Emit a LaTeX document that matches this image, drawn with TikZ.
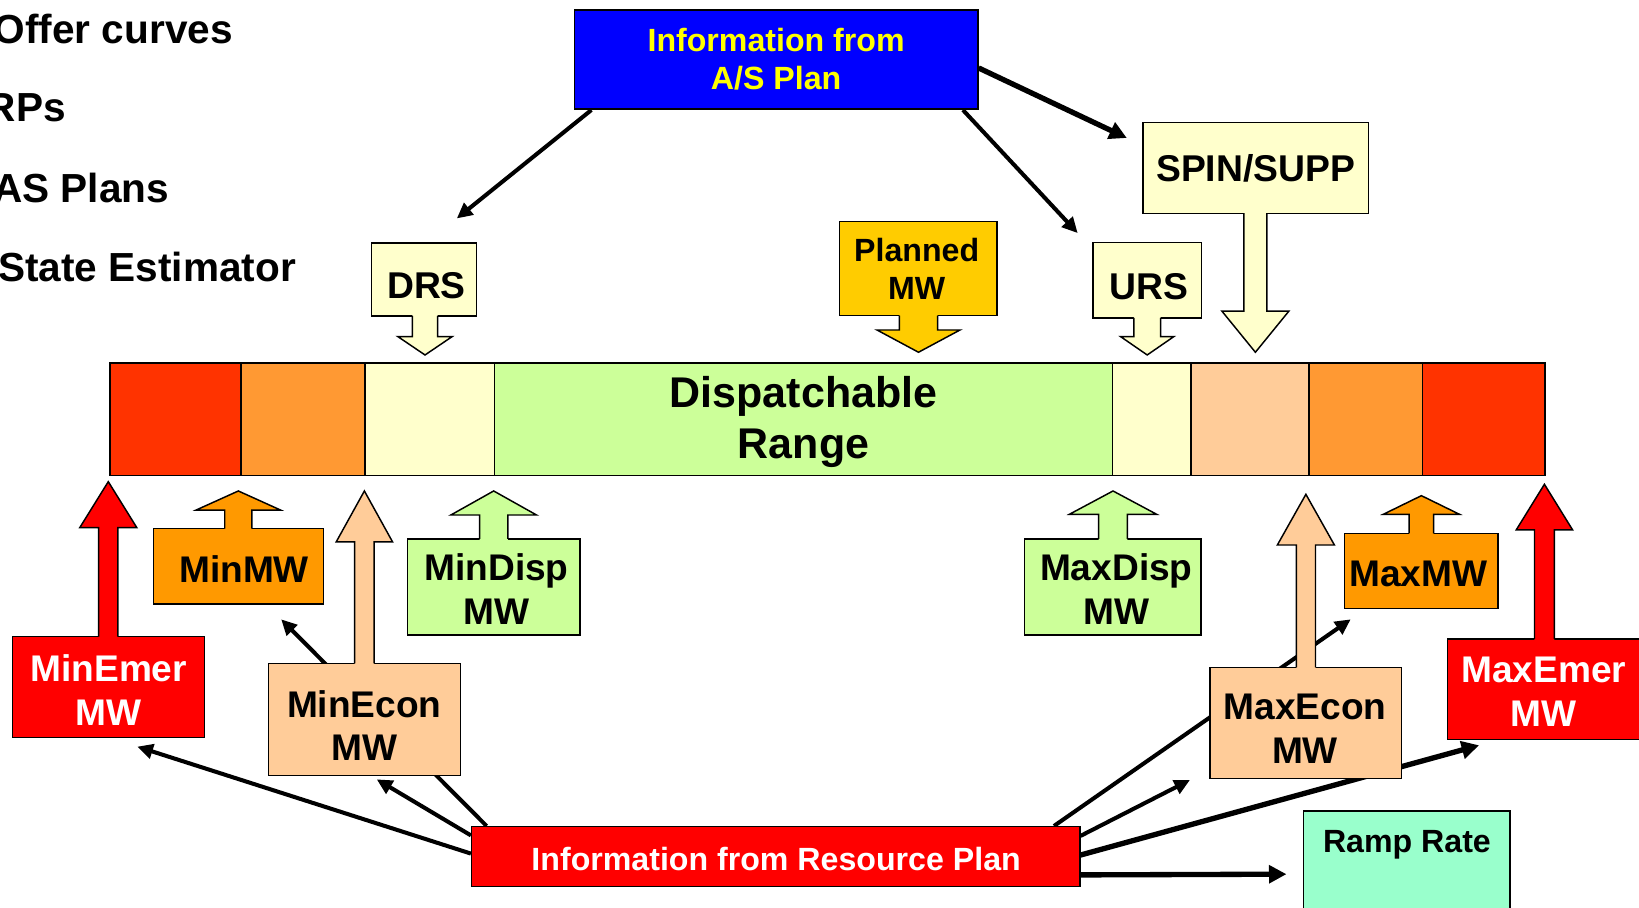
\documentclass[tikz,border=0pt]{standalone}
\usepackage{fontspec}
\setmainfont{Liberation Sans}
\usetikzlibrary{positioning,calc,arrows.meta,backgrounds}

\definecolor{emerred}{RGB}{255,0,0}
\definecolor{barred}{RGB}{255,51,0}
\definecolor{barorange}{RGB}{255,153,51}
\definecolor{mworange}{RGB}{255,153,0}
\definecolor{econpeach}{RGB}{255,204,153}
\definecolor{dispgreen}{RGB}{204,255,153}
\definecolor{regyellow}{RGB}{255,255,204}
\definecolor{plangold}{RGB}{255,204,0}
\definecolor{asblue}{RGB}{0,0,255}
\definecolor{asyellow}{RGB}{255,255,0}
\definecolor{rampmint}{RGB}{153,255,204}

\newcommand{\listfont}{\fontsize{22.1}{26}\selectfont\bfseries}
\newcommand{\boxfont}{\fontsize{20.2}{23.8}\selectfont\bfseries}
\newcommand{\tagfont}{\fontsize{20.3}{24}\selectfont\bfseries}
\newcommand{\infofont}{\fontsize{17.5}{20.6}\selectfont\bfseries}
\newcommand{\rangefont}{\fontsize{23.4}{27.7}\selectfont\bfseries}

% block arrow: colour, x, edge y, head y, tip y, shaft half width, head half width
\newcommand{\blockarrow}[7]{%
\fill[#1] (#2-#6,{#3+1.5*sign(#3-#5)}) -- (#2-#6,#4) -- (#2-#7,#4) -- (#2,#5) -- (#2+#7,#4) -- (#2+#6,#4) -- (#2+#6,{#3+1.5*sign(#3-#5)}) -- cycle;
\draw[arrowline] (#2-#6,#3) -- (#2-#6,#4) -- (#2-#7,#4) -- (#2,#5) -- (#2+#7,#4) -- (#2+#6,#4) -- (#2+#6,#3);}

\tikzset{
  box/.style={draw, line width=0.8pt, inner sep=0pt},
  sized/.style 2 args={minimum width=#1*0.02cm, minimum height=#2*0.02cm},
  boxtext/.style={align=center, inner sep=0pt, font=\boxfont},
  barseg/.style={draw, line width=0.9pt, inner sep=0pt, minimum height=108*0.02cm},
  listtext/.style={anchor=base west, inner sep=0pt, font=\listfont},
  arrowline/.style={line width=0.8pt, line join=miter},
  link/.style={line width=2.2pt, -{Triangle[length=8.5pt,width=8pt]}},
  heavylink/.style={line width=2.9pt, -{Triangle[length=9.5pt,width=9.5pt]}}
}

\begin{document}
\begin{tikzpicture}[x=0.02cm,y=-0.02cm]
\useasboundingbox (0,0) rectangle (1568,868);
\clip (0,0) rectangle (1568,868);
%% list on the left
\node[listtext] (offer) at (-6.4,41.5) {Offer curves};
\node[listtext] (rps) at (-13,116.4) {RPs};
\node[listtext] (asplans) at (-7,193.6) {AS Plans};
\node[listtext] (stateest) at (-2,269.5) {State Estimator};

%the upper nodes
\node[box, fill=asblue, sized={386}{95}] (blue) at (742.5,57) {};
\node[box, fill=regyellow, sized={215.5}{86.6}] (spin) at (1201.3,160.7) {};
\node[box, fill=regyellow, sized={100.4}{70.1}] (drs) at (405.8,267.3) {};
\node[box, fill=plangold, sized={151}{90}] (planned) at (878.5,257) {};
\node[box, fill=regyellow, sized={104}{72.2}] (urs) at (1097.5,268) {};
\blockarrow{regyellow}{406.6}{302.3}{322}{339.6}{12.1}{26}
\blockarrow{plangold}{878.7}{302}{315.7}{337}{18.3}{39.7}
\blockarrow{regyellow}{1097.5}{304}{322}{339.6}{12.75}{25.5}
\blockarrow{regyellow}{1201}{204}{297.7}{337}{11}{32}
%their texts
\node[boxtext, font=\infofont, text=asyellow] (bluetext) at (742.5,57) {Information from\\A/S Plan};
\node[boxtext, font=\tagfont] (spintext) at (1201.3,161.5) {SPIN/SUPP};
\node[boxtext, font=\tagfont] (drstext) at (408,273) {DRS};
\node[boxtext, font=\infofont] (plannedtext) at (877,257) {Planned\\MW};
\node[boxtext, font=\tagfont] (urstext) at (1099.5,274) {URS};

%the bar
\foreach \nm/\xa/\xb/\col in {sega/105.4/230.3/barred, segb/230.3/349/barorange, segc/349/473/regyellow, segd/473/1064.4/dispgreen, sege/1064.4/1139.6/regyellow, segf/1139.6/1252.3/econpeach, segg/1252.3/1360.7/barorange, segh/1360.7/1478.3/barred}
  \node[barseg, fill=\col, minimum width=(\xb-\xa)*0.02cm] (\nm) at ({(\xa+\xb)/2},401) {};
\node[font=\rangefont, align=center] (disprange) at (768.7,403.5) {Dispatchable\\Range};

%the lower nodes
\node[box, fill=emerred, sized={183.7}{96.4}] (minemer) at (103.65,657.2) {};
\node[box, fill=mworange, sized={162.4}{72.3}] (minmw) at (228.2,541.9) {};
\node[box, fill=econpeach, sized={184}{107.4}] (minecon) at (348.7,688.3) {};
\node[box, fill=dispgreen, sized={164.7}{91.9}] (mindisp) at (472.4,561.5) {};
\node[box, fill=dispgreen, sized={168.6}{91.9}] (maxdisp) at (1064.6,561.5) {};
\node[box, fill=econpeach, sized={183.4}{106.6}] (maxecon) at (1249.3,691.7) {};
\node[box, fill=mworange, sized={146.7}{71.8}] (maxmw) at (1359.7,546.1) {};
\node[box, fill=emerred, sized={185}{96}] (maxemer) at (1477.5,659.3) {};
\blockarrow{emerred}{103.6}{609}{504.8}{460.8}{9.2}{27.3}
\blockarrow{mworange}{228}{505.7}{488}{469.7}{13}{40.5}
\blockarrow{econpeach}{348.6}{634.6}{518.5}{469.7}{9.3}{27}
\blockarrow{dispgreen}{472.3}{515.6}{492.7}{469.7}{13.5}{41}
\blockarrow{dispgreen}{1064.8}{515.6}{492}{469.7}{13.8}{41.7}
\blockarrow{econpeach}{1249.3}{638.4}{521.4}{472.9}{9.2}{27.3}
\blockarrow{mworange}{1359.8}{510.2}{492}{474.2}{11.8}{36.4}
\blockarrow{emerred}{1477.5}{611.3}{507}{463.3}{9.5}{27}
%their texts
\node[boxtext, text=white] (minemertext) at (104,660) {MinEmer\\MW};
\node[boxtext] (minmwtext) at (233.5,544.5) {MinMW};
\node[boxtext] (mincontext) at (348.5,694) {MinEcon\\MW};
\node[boxtext] (mindisptext) at (475,563.5) {MinDisp\\MW};
\node[boxtext] (maxdisptext) at (1068,563.5) {MaxDisp\\MW};
\node[boxtext] (maxecontext) at (1248.5,697) {MaxEcon\\MW};
\node[boxtext] (maxmwtext) at (1357,549) {MaxMW};
\node[boxtext, text=white] (maxemertext) at (1477,661.5) {MaxEmer\\MW};

\node[box, fill=emerred, sized={581.8}{57.4}] (rp) at (742.1,819.6) {};
\node[boxtext, font=\infofont, text=white] (rptext) at (742.5,821.5) {Information from Resource Plan};
\node[box, fill=rampmint, sized={197.7}{110}] (ramp) at (1345.75,830.9) {};
\node[boxtext, font=\infofont] (ramptext) at (1346,808) {Ramp Rate};

%free ends of the lines
\coordinate (drsin) at (437,209);
\coordinate (ursin) at (1031,223);
\coordinate (spinin) at (1078,132);
\coordinate (minemerin) at (131.4,714.3);
\coordinate (mineconin) at (360.4,745.6);
\coordinate (minmwin) at (269,592.5);
\coordinate (maxmwin) at (1292.2,592.5);
\coordinate (maxeconin) at (1138.4,746.2);
\coordinate (maxemerin) at (1415,713);
\coordinate (rampin) at (1230.7,836.3);

%drawings of lines
\begin{scope}[on background layer]
\draw[link] ($(blue.south west)+(17,0)$) -- (drsin);
\draw[link] ($(blue.south east)+(-15,0)$) -- (ursin);
\draw[heavylink] ($(blue.east)+(0,8)$) -- (spinin);

\draw[link] ($(rp.west)+(0,-3)$) -- (minemerin);
\draw[link] ($(rp.north west)+(0,9)$) -- (mineconin);
\draw[link] ($(rp.north west)+(15,0)$) -- (minmwin);
\draw[link] ($(rp.north east)+(-25.4,0)$) -- (maxmwin);
\draw[link] ($(rp.north east)+(0,9.5)$) -- (maxeconin);
\draw[heavylink] ($(rp.east)+(0,-1.6)$) -- (maxemerin);
\draw[heavylink] ($(rp.south east)+(0,-12)$) -- (rampin);
\end{scope}
\end{tikzpicture}
\end{document}
